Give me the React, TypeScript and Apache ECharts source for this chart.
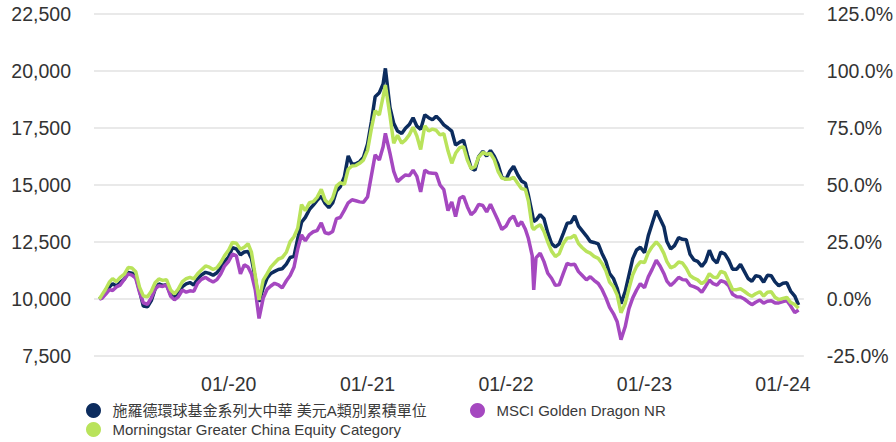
import React, { useEffect, useRef } from "react";
import * as echarts from "echarts";

const SERIES_NAMES = [
  "施羅德環球基金系列大中華 美元A類別累積單位",
  "MSCI Golden Dragon NR",
  "Morningstar Greater China Equity Category",
];
const COLORS = ["#0c2c5e", "#a548c0", "#b9e35b"];

const LEFT_TICKS = [7500, 10000, 12500, 15000, 17500, 20000, 22500];
const RIGHT_TICKS = [-25, 0, 25, 50, 75, 100, 125];
const X_LABEL_DATES = ["2020-01-01", "2021-01-01", "2022-01-01", "2023-01-01", "2024-01-01"];

const dates = [
  "2019-01-25","2019-02-01","2019-02-11","2019-02-21","2019-03-01","2019-03-11","2019-03-21",
  "2019-04-01","2019-04-11","2019-04-21","2019-05-01","2019-05-11","2019-05-21","2019-06-01",
  "2019-06-11","2019-06-21","2019-07-01","2019-07-11","2019-07-21","2019-08-01","2019-08-11",
  "2019-08-21","2019-09-01","2019-09-11","2019-09-21","2019-10-01","2019-10-11","2019-10-21",
  "2019-11-01","2019-11-11","2019-11-21","2019-12-01","2019-12-11","2019-12-21",
  "2020-01-01","2020-01-11","2020-01-21","2020-02-01","2020-02-11","2020-02-21","2020-03-01",
  "2020-03-11","2020-03-21","2020-04-01","2020-04-11","2020-04-21","2020-05-01","2020-05-11",
  "2020-05-21","2020-06-01","2020-06-11","2020-06-21","2020-07-01","2020-07-11","2020-07-21",
  "2020-08-01","2020-08-11","2020-08-21","2020-09-01","2020-09-11","2020-09-21","2020-10-01",
  "2020-10-11","2020-10-21","2020-11-01","2020-11-11","2020-11-21","2020-12-01","2020-12-11",
  "2020-12-21",
  "2021-01-01","2021-01-11","2021-01-21","2021-02-01","2021-02-11","2021-02-17","2021-03-01",
  "2021-03-11","2021-03-21","2021-04-01","2021-04-11","2021-04-21","2021-05-01","2021-05-11",
  "2021-05-21","2021-06-01","2021-06-11","2021-06-21","2021-07-01","2021-07-11","2021-07-21",
  "2021-08-01","2021-08-11","2021-08-21","2021-09-01","2021-09-11","2021-09-21","2021-10-01",
  "2021-10-11","2021-10-21","2021-11-01","2021-11-11","2021-11-21","2021-12-01","2021-12-11",
  "2021-12-21",
  "2022-01-01","2022-01-11","2022-01-21","2022-02-01","2022-02-11","2022-02-21","2022-03-01",
  "2022-03-11","2022-03-15","2022-03-21","2022-04-01","2022-04-11","2022-04-21","2022-05-01",
  "2022-05-11","2022-05-21","2022-06-01","2022-06-11","2022-06-21","2022-07-01","2022-07-11",
  "2022-07-21","2022-08-01","2022-08-11","2022-08-21","2022-09-01","2022-09-11","2022-09-21",
  "2022-10-01","2022-10-11","2022-10-21","2022-10-31","2022-11-11","2022-11-21","2022-12-01",
  "2022-12-11","2022-12-21",
  "2023-01-01","2023-01-11","2023-01-21","2023-02-01","2023-02-11","2023-02-21","2023-03-01",
  "2023-03-11","2023-03-21","2023-04-01","2023-04-11","2023-04-21","2023-05-01","2023-05-11",
  "2023-05-21","2023-06-01","2023-06-11","2023-06-21","2023-07-01","2023-07-11","2023-07-21",
  "2023-08-01","2023-08-11","2023-08-21","2023-09-01","2023-09-11","2023-09-21","2023-10-01",
  "2023-10-11","2023-10-21","2023-11-01","2023-11-11","2023-11-21","2023-12-01","2023-12-11",
  "2023-12-21",
  "2024-01-01","2024-01-11","2024-01-21","2024-02-01","2024-02-11",
];

const fundValues = [
  10000,10110,10290,10540,10670,10570,10725,10870,11160,11135,10980,10372,9690,9655,
  9930,10435,10660,10595,10630,10200,10070,10240,10540,10665,10720,10610,10880,11050,
  11170,11125,11042,11150,11370,11635,
  11850,12250,12200,11940,12060,12087,11780,10920,9882,10480,10910,11120,11210,11295,
  11325,11530,11820,11867,12650,13365,13580,13930,14120,14325,14513,14195,14005,14210,
  14730,14920,15370,16277,15909,15930,16020,16210,
  16800,17760,18874,19050,19430,20117,18400,17705,17370,17260,17490,17650,17950,17580,
  17440,18080,17950,17860,18020,17850,17640,17500,17360,16750,16880,16960,16316,15740,
  15650,16250,16470,16270,16510,16260,15900,15340,
  15250,15600,15820,15440,15170,15080,14550,13750,13400,13460,13700,13520,12900,12430,
  12280,12420,12880,13320,13350,13650,13200,12990,12760,12520,12480,12420,12000,11660,
  11120,10900,10470,9800,10320,11050,11770,12150,12270,
  12030,12780,13300,13870,13520,13170,12520,12190,12340,12690,12620,12600,11960,11720,
  11650,11430,11650,12140,11740,11580,12060,11970,11700,11310,11310,11520,11210,10900,
  10780,11020,10980,10740,11040,11020,10750,10580,
  10691,10710,10350,10130,9735,
];

const msciValues = [
  10000,10035,10215,10410,10372,10530,10610,10870,11100,11050,10910,10298,9830,9770,
  10050,10440,10585,10551,10620,10125,9965,10090,10395,10300,10360,10335,10690,10860,
  10950,10835,10744,10850,11100,11445,
  11655,11965,11900,11100,11500,11400,11100,10400,9147,10040,10420,10570,10690,10620,
  10490,10800,11030,11390,12200,12815,12550,12825,12950,13000,13337,12905,12860,12960,
  13525,13575,13900,14219,14350,14310,14260,14240,
  14480,15400,16320,16100,16681,17266,16400,15600,15150,15310,15440,15410,15650,15380,
  14700,15650,15540,15520,15500,15000,14800,13880,14260,13611,14420,14500,14050,13700,
  13850,14150,14100,13820,14160,13800,13440,13050,
  13200,13500,13640,13200,13390,13060,12650,11900,10397,11800,12010,11640,11130,10910,
  10600,10620,11120,11560,11500,11520,11200,11030,10840,10980,10820,10680,10420,10060,
  9630,9360,9000,8220,8780,9580,10050,10390,10670,
  10500,10970,11300,11700,11450,11120,10780,10590,10750,10950,10850,10830,10600,10544,
  10470,10300,10550,10830,10670,10610,10800,10740,10580,10210,10100,10090,10000,9870,
  9750,9860,9955,9820,9900,9920,9830,9830,
  9882,9930,9700,9400,9515,
];

const categoryValues = [
  10000,10180,10440,10750,10893,10760,10950,11090,11380,11360,11200,10521,10135,10100,
  10340,10710,10880,10818,10850,10400,10220,10430,10765,10890,10950,10885,11105,11275,
  11450,11395,11295,11370,11595,11895,
  12150,12485,12450,12180,12270,12426,12050,11030,9956,10830,11100,11400,11580,11755,
  11815,12050,12515,12730,13100,14140,13875,14225,14270,14460,14807,14345,14175,14430,
  14950,15101,15027,15689,15836,15850,15950,16090,
  16520,17460,18260,18070,18874,19386,18050,16828,17180,16830,16980,17200,17530,17150,
  16560,17600,17370,17450,17400,17200,17250,16500,15950,16390,16640,16680,16097,15720,
  15800,16230,16430,16350,16380,16110,15600,15300,
  15250,15260,15340,15070,14840,14800,14300,13150,13050,13150,13260,12960,12500,12100,
  11867,11980,12440,12670,12690,12800,12430,12250,12090,12010,11867,11780,11560,11240,
  10740,10540,10170,9400,9800,10460,11060,11420,11630,
  11600,12030,12290,12500,12320,12000,11640,11370,11440,11620,11580,11350,11030,10911,
  10840,10670,10800,11110,10960,10930,11210,11140,10780,10420,10410,10450,10340,10210,
  10120,10230,10320,10130,10300,10320,10080,9970,
  10029,10070,9850,9760,9590,
];

const FONT = "'Liberation Sans', Arial, 'Noto Sans CJK TC', sans-serif";

function toTime(s: string): number {
  const [y, m, d] = s.split("-").map(Number);
  return new Date(y, m - 1, d).getTime();
}

function withCommas(v: number): string {
  return String(v).replace(/\B(?=(\d{3})+(?!\d))/g, ",");
}

export default function App() {
  const ref = useRef<HTMLDivElement>(null);

  useEffect(() => {
    if (!ref.current) return;
    const chart = echarts.init(ref.current, undefined, { renderer: "svg" });
    const seriesValues = [fundValues, msciValues, categoryValues];
    const makeLegend = (name: string, left: number, top: number) => ({
      data: [name],
      left,
      top,
      orient: "horizontal",
      icon: "circle",
      itemWidth: 28,
      itemHeight: 15,
      padding: 0,
      selectedMode: false,
      textStyle: { fontSize: 15, color: "#3a3a3a", fontFamily: FONT },
    });
    chart.setOption({
      animation: false,
      backgroundColor: "#ffffff",
      textStyle: { fontFamily: FONT },
      grid: { left: 94, right: 90, top: 14, bottom: 86, containLabel: false },
      legend: [
        makeLegend(SERIES_NAMES[0], 86, 403),
        makeLegend(SERIES_NAMES[1], 470, 403),
        makeLegend(SERIES_NAMES[2], 86, 422),
      ],
      xAxis: {
        type: "value",
        min: toTime("2019-01-11"),
        max: toTime("2024-02-25"),
        axisLine: { show: false },
        axisTick: { show: false },
        splitLine: { show: false },
        axisLabel: {
          customValues: X_LABEL_DATES.map(toTime),
          fontSize: 19.5,
          color: "#333",
          fontFamily: FONT,
          margin: 18,
          formatter: (v: number) => {
            const d = new Date(v);
            const mm = String(d.getMonth() + 1).padStart(2, "0");
            return mm + "/-" + String(d.getFullYear()).slice(2);
          },
        },
      },
      yAxis: [
        {
          type: "value",
          min: LEFT_TICKS[0],
          max: LEFT_TICKS[LEFT_TICKS.length - 1],
          interval: LEFT_TICKS[1] - LEFT_TICKS[0],
          axisLine: { show: false },
          axisTick: { show: false },
          splitLine: { lineStyle: { color: "#e2e2e2", width: 1.5 } },
          axisLabel: {
            fontSize: 19.5,
            color: "#333",
            fontFamily: FONT,
            margin: 23,
            formatter: (v: number) => withCommas(v),
          },
        },
        {
          type: "value",
          min: RIGHT_TICKS[0],
          max: RIGHT_TICKS[RIGHT_TICKS.length - 1],
          interval: RIGHT_TICKS[1] - RIGHT_TICKS[0],
          axisLine: { show: false },
          axisTick: { show: false },
          splitLine: { show: false },
          axisLabel: {
            fontSize: 19.5,
            color: "#333",
            fontFamily: FONT,
            margin: 23,
            formatter: (v: number) => v.toFixed(1) + "%",
          },
        },
      ],
      series: SERIES_NAMES.map((name, i) => ({
        name,
        type: "line",
        yAxisIndex: 0,
        showSymbol: false,
        symbol: "none",
        color: COLORS[i],
        lineStyle: { width: 3.5, color: COLORS[i] },
        data: dates.map((d, j) => [toTime(d), seriesValues[i][j]]),
      })),
    });
    return () => chart.dispose();
  }, []);

  return (
    <div
      ref={ref}
      style={{ position: "absolute", left: 0, top: 0, width: 896, height: 442 }}
    />
  );
}
